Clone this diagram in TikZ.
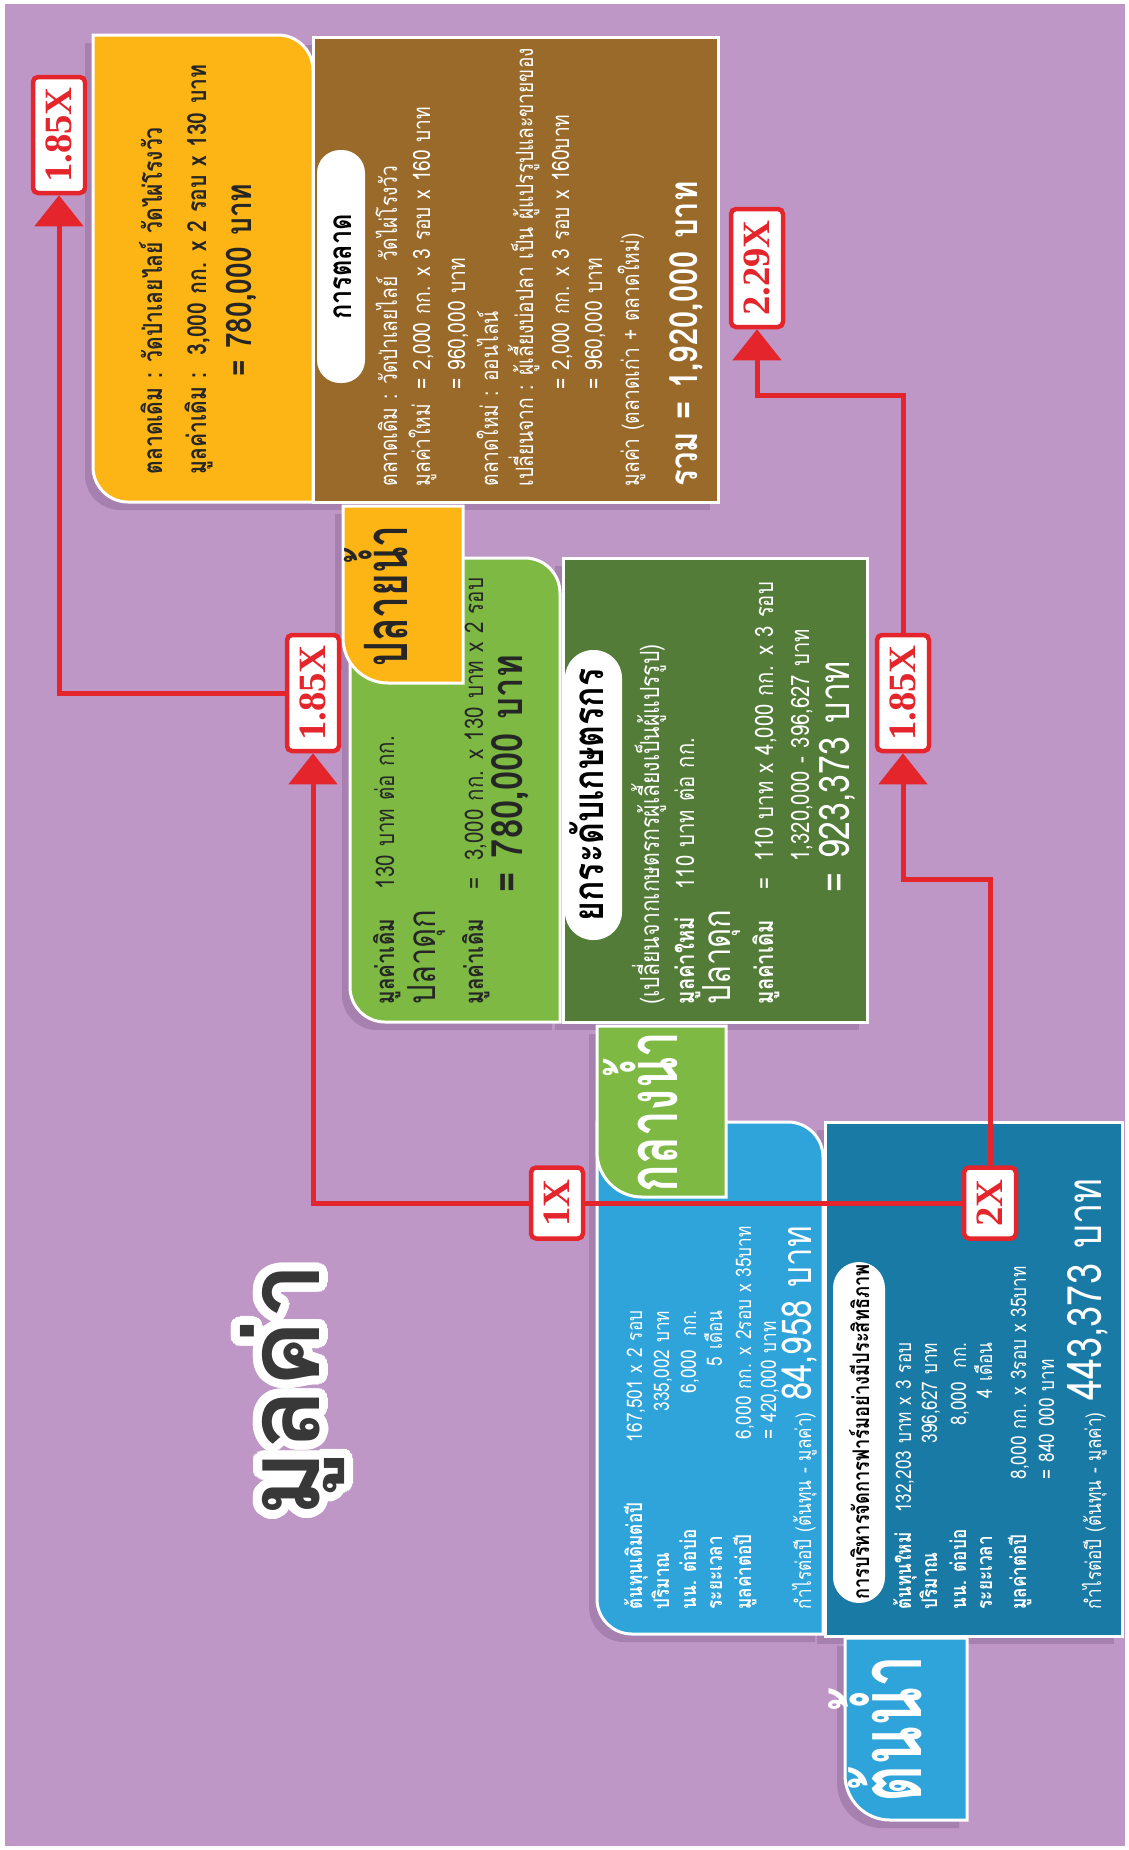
\documentclass[tikz,border=0pt]{standalone}
\usepackage{fontspec}
\setmainfont[Script=Thai,FakeStretch=0.8,WordSpace=1.2]{Loma}
\newfontfamily\tabfont[Script=Thai,FakeStretch=0.65]{Loma}
\newfontfamily\titlefont[Script=Thai]{Loma}
\newfontfamily\multfont{Liberation Serif}
\usepackage{contour}
\contournumber{32}
\usetikzlibrary{arrows.meta}

\definecolor{bgpurple}{HTML}{BF97C7}
\definecolor{shpurple}{HTML}{A680AE}
\definecolor{orangebox}{HTML}{FDB515}
\definecolor{brownbox}{HTML}{9A6A2B}
\definecolor{lgreenbox}{HTML}{7DB943}
\definecolor{dgreenbox}{HTML}{537C38}
\definecolor{lbluebox}{HTML}{2FA4DB}
\definecolor{dbluebox}{HTML}{1A7AA6}
\definecolor{myred}{HTML}{E4252C}
\definecolor{darktext}{HTML}{262626}
\definecolor{titlegray}{HTML}{383838}

\newcommand\fsz[1]{\fontsize{#1}{#1}\selectfont}

% panel outlines in image pixels
\def\shOrange{(93,35) -- (278,35) arc[start angle=270,end angle=360,radius=35] -- (313,502) -- (128,502) arc[start angle=90,end angle=180,radius=35] -- cycle}
\def\shBrown{(313,37) rectangle (718,502)}
\def\shGreenL{(350,558) -- (525,558) arc[start angle=270,end angle=360,radius=35] -- (560,1022) -- (385,1022) arc[start angle=90,end angle=180,radius=35] -- cycle}
\def\shGreenD{(563,558) rectangle (867,1022)}
\def\shBlueL{(597,1122) -- (788,1122) arc[start angle=270,end angle=360,radius=35] -- (823,1634) -- (632,1634) arc[start angle=90,end angle=180,radius=35] -- cycle}
\def\shBlueD{(825,1122) rectangle (1122,1636)}
\def\shTabUp{(343,506) -- (463,506) -- (463,683) -- (388,683) arc[start angle=90,end angle=180,radius=45] -- cycle}
\def\shTabMid{(597,1026) -- (726,1026) -- (726,1197) -- (642,1197) arc[start angle=90,end angle=180,radius=45] -- cycle}
\def\shTabSrc{(845,1638) -- (967,1638) -- (967,1820) -- (890,1820) arc[start angle=90,end angle=180,radius=45] -- cycle}

\tikzset{
  panel/.style={draw=white,line width=0.3mm},
  castshadow/.style={fill=shpurple,shift={(-8,8)}},
  pill/.style={fill=white,rounded corners=#1},
  tx/.style={rotate=90,inner sep=0pt,anchor=mid west},
  txd/.style={tx,text=darktext},
  txw/.style={tx,text=white},
  mult/.style={draw=myred,line width=0.45mm,fill=white,rounded corners=0.5mm,rotate=90,
    minimum height=5.2mm,inner sep=0pt,text=myred,
    font=\multfont\bfseries\fsz{11pt}},
  link/.style={draw=myred,line width=0.5mm},
  linkto/.style={link,-{Triangle[width=4.8mm,length=3.1mm]}}
}

\begin{document}
\begin{tikzpicture}[x=0.1mm,y=-0.1mm]
\useasboundingbox (0,0) rectangle (1129,1850);
\fill[white] (0,0) rectangle (1129,1850);
\fill[bgpurple] (5,4) rectangle (1125,1846);

% shadows
\foreach \s in {\shOrange,\shBrown,\shGreenL,\shGreenD,\shTabUp,\shBlueL,\shBlueD,\shTabMid,\shTabSrc}
  \path[castshadow] \s;

% panels
\path[panel,fill=orangebox] \shOrange;
\path[panel,fill=brownbox] \shBrown;
\path[panel,fill=lgreenbox] \shGreenL;
\path[panel,fill=dgreenbox] \shGreenD;
\path[panel,fill=orangebox] \shTabUp;
\path[panel,fill=lbluebox] \shBlueL;
\path[panel,fill=dbluebox] \shBlueD;
\path[panel,fill=lgreenbox] \shTabMid;
\path[panel,fill=lbluebox] \shTabSrc;

% title and tabs
\node[rotate=90,anchor=mid,text=titlegray,font=\titlefont\bfseries\fsz{29pt}] (title) at (310,1390)
  {\contourlength{0.9mm}\contour{white}{มูลค่า}};
\node[rotate=90,anchor=mid,text=darktext,font=\tabfont\bfseries\fsz{17pt}] (tabUp) at (398,596) {ปลายน้ำ};
\node[rotate=90,anchor=mid,text=white,font=\tabfont\bfseries\fsz{20pt}] (tabMid) at (668,1112) {กลางน้ำ};
\node[rotate=90,anchor=mid,text=white,font=\tabfont\bfseries\fsz{25pt}] (tabSrc) at (912,1729) {ต้นน้ำ};

% orange panel
\node[txd,font=\bfseries\fsz{7.5pt}] (o1) at (153,475) {ตลาดเดิม : วัดป่าเลยไลย์ วัดไผ่โรงวัว};
\node[txd,font=\bfseries\fsz{7.5pt}] (o2) at (197,475) {มูลค่าเดิม :\ \ 3,000 กก. x 2 รอบ x 130 บาท};
\node[txd,anchor=mid,font=\bfseries\fsz{10pt}] (o3) at (242,280) {= 780,000 บาท};

% brown panel
\path[pill=2.3mm] (317,150) rectangle (365,383);
\node[rotate=90,anchor=mid,font=\bfseries\fsz{9pt}] (pillMkt) at (342,267) {การตลาด};
\node[txw,font=\fsz{6.8pt}] (b1) at (388,487) {ตลาดเดิม : วัดป่าเลยไลย์\ \ วัดไผ่โรงวัว};
\node[txw,font=\fsz{6.8pt}] (b2) at (421,487) {มูลค่าใหม่};
\node[txw,font=\fsz{6.8pt}] (b2v) at (421,390) {= 2,000 กก. x 3 รอบ x 160 บาท};
\node[txw,font=\fsz{6.8pt}] (b3) at (456,390) {= 960,000 บาท};
\node[txw,font=\fsz{6.8pt}] (b4) at (489,487) {ตลาดใหม่ : ออนไลน์};
\node[txw,font=\fsz{6.8pt}] (b5) at (524,487) {เปลี่ยนจาก : ผู้เลี้ยงบ่อปลา เป็น ผู้แปรรูปและขายของ};
\node[txw,font=\fsz{6.8pt}] (b6) at (560,390) {= 2,000 กก. x 3 รอบ x 160บาท};
\node[txw,font=\fsz{6.8pt}] (b7) at (593,390) {= 960,000 บาท};
\node[txw,font=\fsz{6.8pt}] (b8) at (630,487) {มูลค่า (ตลาดเก่า + ตลาดใหม่)};
\node[txw,font=\bfseries\fsz{11pt}] (b9) at (688,487) {รวม = 1,920,000 บาท};

% light green panel
\node[txd,font=\bfseries\fsz{7.3pt}] (g1) at (385,1005) {มูลค่าเดิม};
\node[txd,font=\fsz{7.3pt}] (g1v) at (385,890) {130 บาท ต่อ กก.};
\node[txd,font=\fsz{11pt}] (g2) at (426,1005) {ปลาดุก};
\node[txd,font=\bfseries\fsz{7.3pt}] (g3) at (474,1005) {มูลค่าเดิม};
\node[txd,font=\fsz{7.3pt}] (g3v) at (474,890) {=\ \ 3,000 กก. x 130 บาท x 2 รอบ};
\node[txd,font=\bfseries\fsz{12.3pt}] (g4) at (513,893) {= 780,000 บาท};

% dark green panel
\path[pill=2.8mm] (565,650) rectangle (622,940);
\node[rotate=90,anchor=mid,font=\bfseries\fsz{12pt}] (pillUp) at (594,795) {ยกระดับเกษตรกร};
\node[txw,font=\fsz{7.5pt}] (d1) at (650,1005) {(เปลี่ยนจากเกษตรกรผู้เลี้ยงเป็นผู้แปรรูป)};
\node[txw,font=\bfseries\fsz{7.2pt}] (d2) at (685,1005) {มูลค่าใหม่};
\node[txw,font=\fsz{7.2pt}] (d2v) at (685,890) {110 บาท ต่อ กก.};
\node[txw,font=\fsz{11pt}] (d3) at (721,1005) {ปลาดุก};
\node[txw,font=\bfseries\fsz{7.2pt}] (d4) at (764,1005) {มูลค่าเดิม};
\node[txw,font=\fsz{7.2pt}] (d4v) at (764,890) {=\ \ 110 บาท x 4,000 กก. x 3 รอบ};
\node[txw,font=\fsz{7.2pt}] (d5) at (800,862) {1,320,000 - 396,627 บาท};
\node[txw,font=\fsz{12pt}] (d6) at (840,893) {= 923,373 บาท};

% light blue panel
\node[txw,font=\bfseries\fsz{6.1pt}] (l1) at (633,1610) {ต้นทุนเดิมต่อปี};
\node[txw,anchor=mid east,font=\fsz{6.1pt}] (l1v) at (633,1310) {167,501 x 2 รอบ};
\node[txw,font=\bfseries\fsz{6.1pt}] (l2) at (660,1610) {ปริมาณ};
\node[txw,anchor=mid east,font=\fsz{6.1pt}] (l2v) at (660,1310) {335,002 บาท};
\node[txw,font=\bfseries\fsz{6.1pt}] (l3) at (687,1610) {นน. ต่อบ่อ};
\node[txw,anchor=mid east,font=\fsz{6.1pt}] (l3v) at (687,1310) {6,000\ \ กก.};
\node[txw,font=\bfseries\fsz{6.1pt}] (l4) at (713,1610) {ระยะเวลา};
\node[txw,anchor=mid east,font=\fsz{6.1pt}] (l4v) at (713,1310) {5 เดือน};
\node[txw,font=\bfseries\fsz{6.1pt}] (l5) at (742,1610) {มูลค่าต่อปี};
\node[txw,font=\fsz{6.1pt}] (l5v) at (742,1440) {6,000 กก. x 2รอบ x 35บาท};
\node[txw,font=\fsz{6.1pt}] (l6v) at (767,1440) {= 420,000 บาท};
\node[txw,font=\fsz{6.1pt}] (l7) at (802,1610) {กำไรต่อปี (ต้นทุน - มูลค่า)};
\node[txw,anchor=base west,font=\fsz{11.7pt}] (l7v) at ([yshift=1mm]l7.base east) {84,958 บาท};

% dark blue panel
\path[pill=2.6mm] (833,1262) rectangle (885,1603);
\node[rotate=90,anchor=mid,font=\bfseries\fsz{6.5pt}] (pillFarm) at (860,1432) {การบริหารจัดการฟาร์มอย่างมีประสิทธิภาพ};
\node[txw,font=\bfseries\fsz{6.1pt}] (n1) at (902,1610) {ต้นทุนใหม่};
\node[txw,anchor=mid east,font=\fsz{6.1pt}] (n1v) at (902,1342) {132,203 บาท x 3 รอบ};
\node[txw,font=\bfseries\fsz{6.1pt}] (n2) at (928,1610) {ปริมาณ};
\node[txw,anchor=mid east,font=\fsz{6.1pt}] (n2v) at (928,1342) {396,627 บาท};
\node[txw,font=\bfseries\fsz{6.1pt}] (n3) at (957,1610) {นน. ต่อบ่อ};
\node[txw,anchor=mid east,font=\fsz{6.1pt}] (n3v) at (957,1342) {8,000\ \ กก.};
\node[txw,font=\bfseries\fsz{6.1pt}] (n4) at (983,1610) {ระยะเวลา};
\node[txw,anchor=mid east,font=\fsz{6.1pt}] (n4v) at (983,1342) {4 เดือน};
\node[txw,font=\bfseries\fsz{6.1pt}] (n5) at (1017,1610) {มูลค่าต่อปี};
\node[txw,font=\fsz{6.1pt}] (n5v) at (1017,1480) {8,000 กก. x 3รอบ x 35บาท};
\node[txw,font=\fsz{6.1pt}] (n6v) at (1045,1480) {= 840 000 บาท};
\node[txw,font=\fsz{6.1pt}] (n7) at (1092,1610) {กำไรต่อปี (ต้นทุน - มูลค่า)};
\node[txw,anchor=base west,font=\fsz{13.5pt}] (n7v) at ([yshift=1mm]n7.base east) {443,373 บาท};

% multipliers
\node[mult,minimum width=7.1mm] (m1) at (557,1203) {1X};
\node[mult,minimum width=7.1mm] (m2) at (990,1203) {2X};
\node[mult,minimum width=11.6mm] (m3) at (313,693) {1.85X};
\node[mult,minimum width=11.6mm] (m4) at (59,135) {1.85X};
\node[mult,minimum width=11.6mm] (m5) at (903,693) {1.85X};
\node[mult,minimum width=11.8mm] (m6) at (757,268) {2.29X};
\coordinate (k1) at (903,879);
\coordinate (k2) at (757,395);

% links
\draw[link] (m1) -- (m2);
\draw[linkto] (m1) -| (m3);
\draw[linkto] (m3) -| (m4);
\draw[linkto] (m2) |- (k1) -- (m5);
\draw[linkto] (m5) |- (k2) -- (m6);
\end{tikzpicture}
\end{document}
